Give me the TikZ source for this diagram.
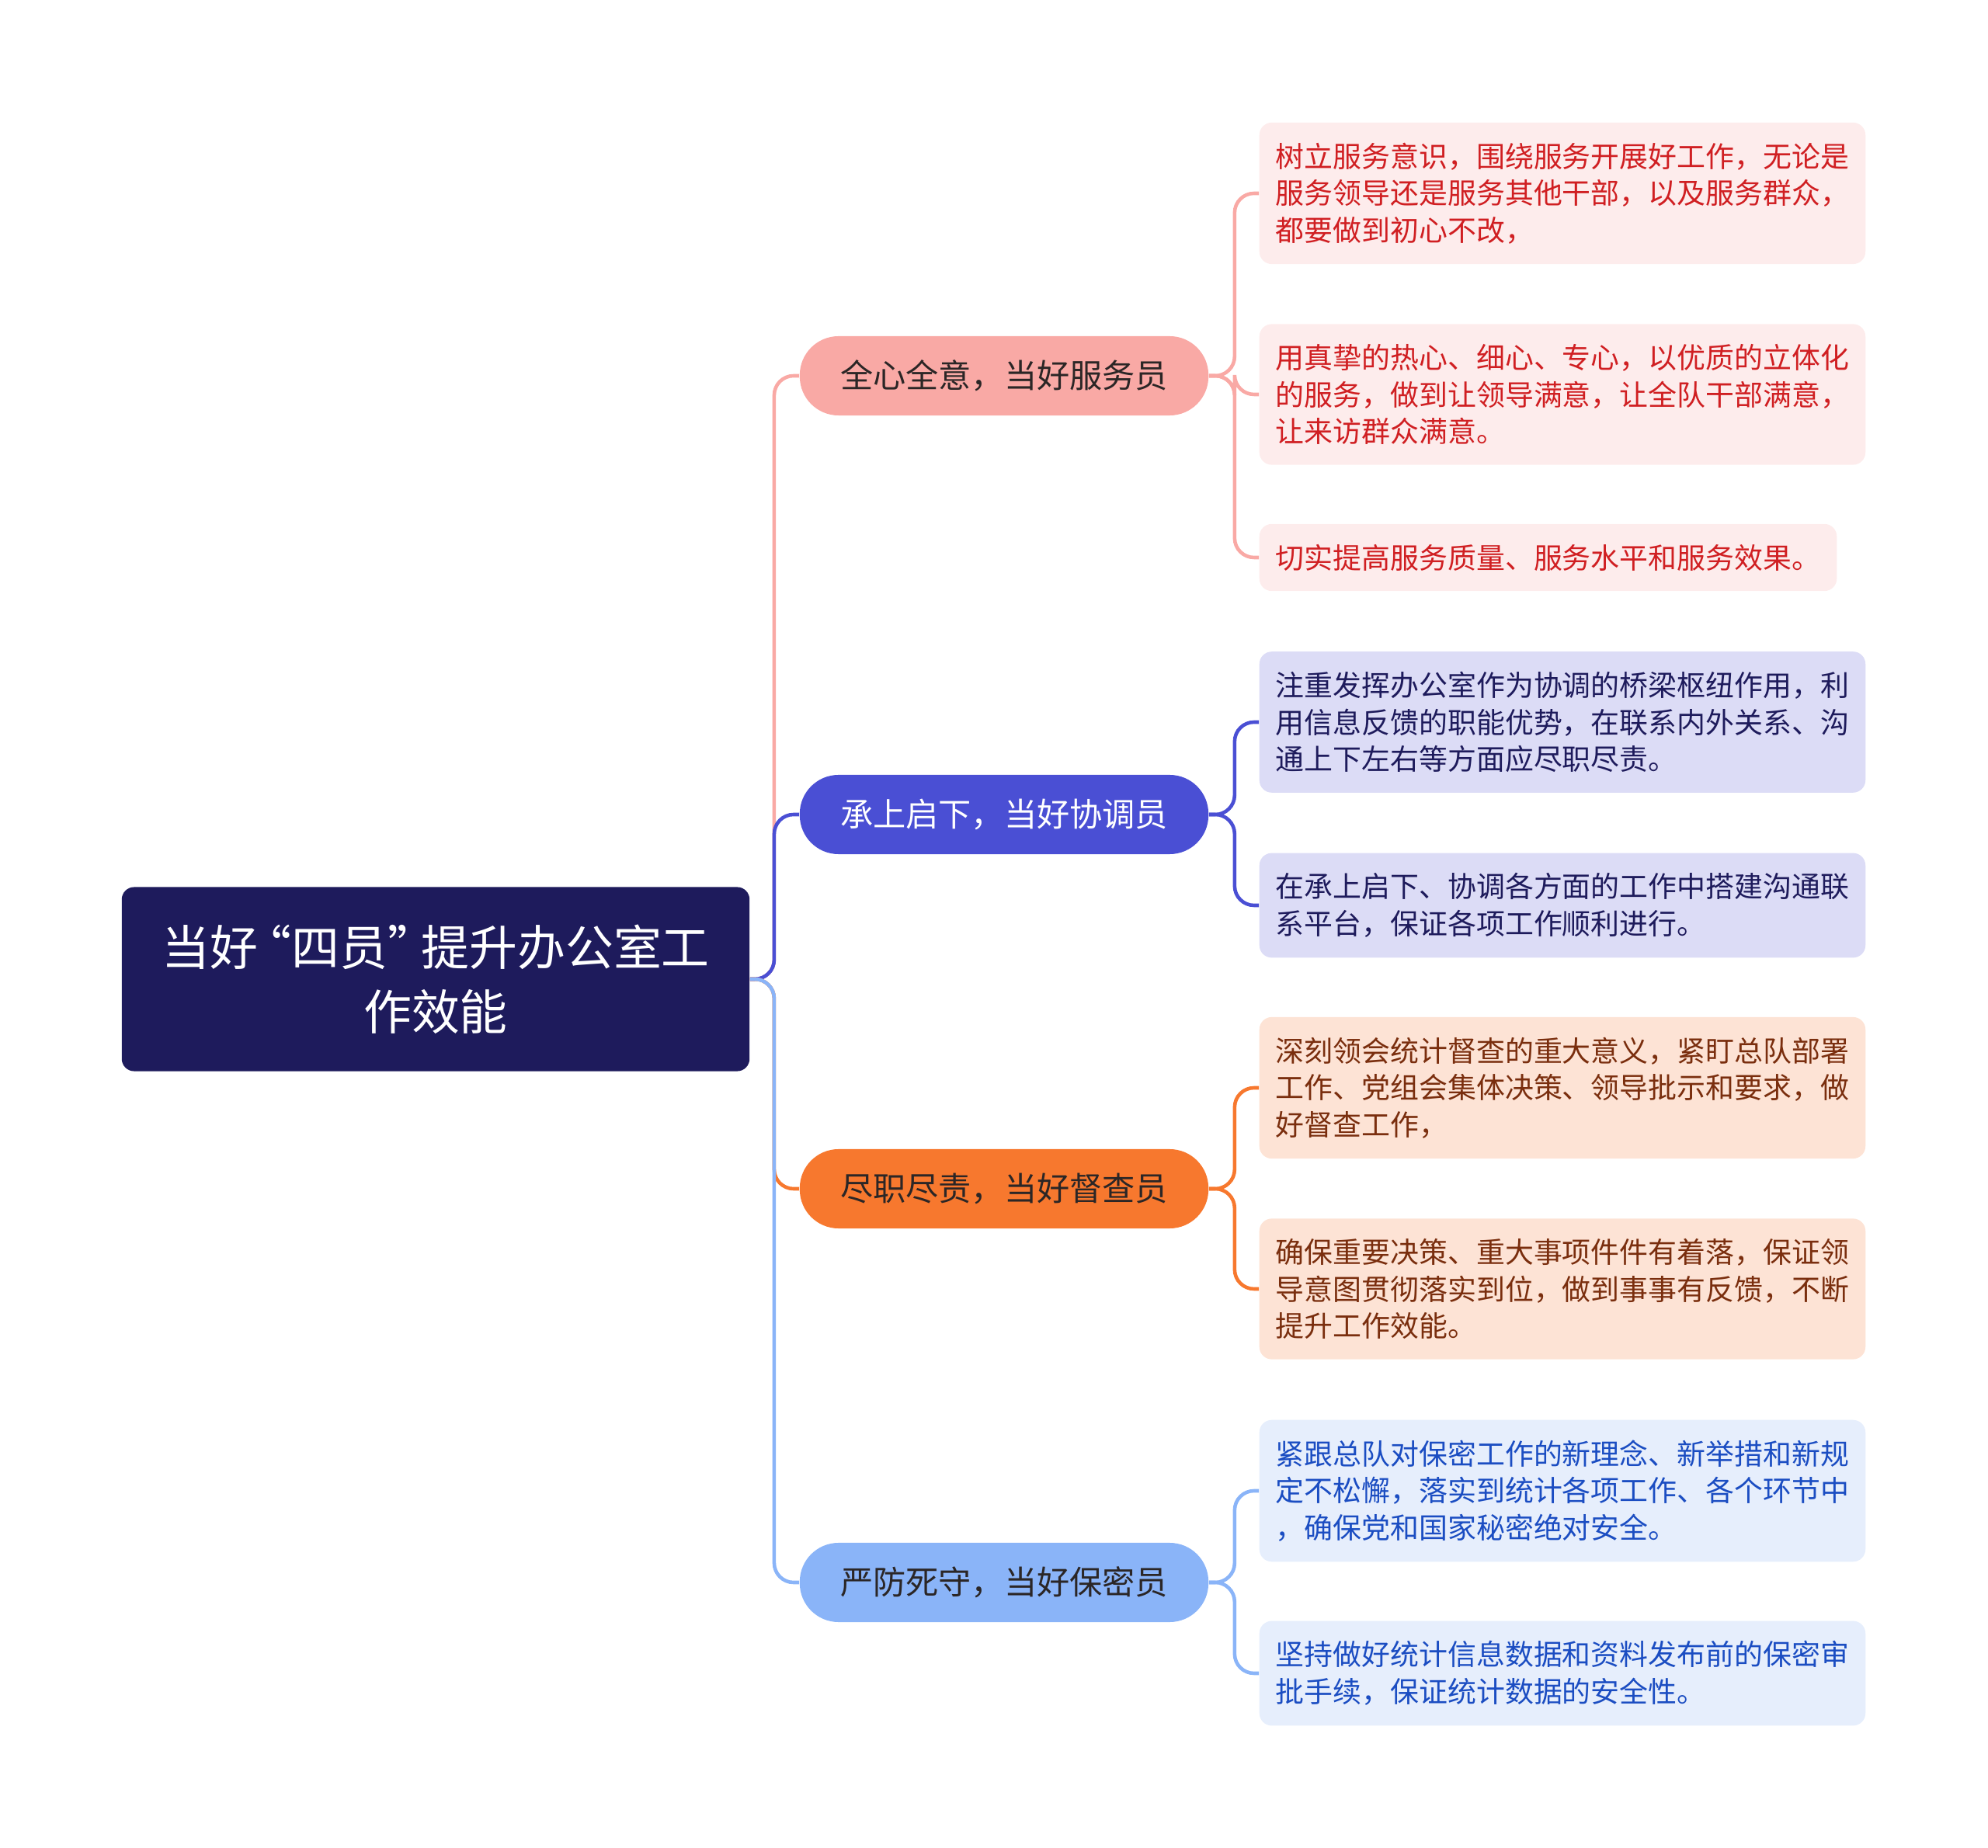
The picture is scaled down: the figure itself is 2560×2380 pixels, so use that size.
\documentclass[tikz,border=0pt]{standalone}
\usepackage{fontspec}
\setmainfont{Noto Sans CJK SC}
\usepackage{tikz}
\definecolor{rootnavy}{HTML}{1E1B5C}
\definecolor{servepink}{HTML}{F9A9A5}
\definecolor{coordblue}{HTML}{4A4FD4}
\definecolor{checkorange}{HTML}{F7782E}
\definecolor{secretblue}{HTML}{8AB4F8}
\definecolor{servefill}{HTML}{FDECEC}
\definecolor{coordfill}{HTML}{DCDCF6}
\definecolor{checkfill}{HTML}{FDE3D5}
\definecolor{secretfill}{HTML}{E6EEFC}
\definecolor{servetext}{HTML}{D01F22}
\definecolor{checktext}{HTML}{7A2E0E}
\definecolor{secrettext}{HTML}{1B4DC2}
\definecolor{pilltext}{HTML}{2B2626}
\tikzset{
  maproot/.style={fill=rootnavy,text=white,rounded corners=0.16cm,minimum width=8.08cm,
    minimum height=2.37cm,align=center,font=\fontsize{17.6pt}{23.6pt}\selectfont},
  mapbranch/.style={rounded corners=0.5cm,minimum width=5.26cm,minimum height=1.02cm,
    font=\fontsize{12pt}{14pt}\selectfont},
  mapleaf/.style={anchor=west,rounded corners=0.16cm,align=left,inner xsep=0.21cm,
    inner ysep=0.26cm,font=\fontsize{10.5pt}{13.5pt}\selectfont},
  maplink/.style={line width=1.3pt,rounded corners=0.25cm}
}
\begin{document}
\begin{tikzpicture}[x=0.01cm,y=-0.01cm]
  \useasboundingbox (0,0) rectangle (2560,2380);
  % centre
  \node[maproot] (root) at (561,1261) {当好\kern-0.3em“四员”\kern-0.3em提升办公室工\\作效能};
  % the four roles
  \node[mapbranch,fill=servepink,text=pilltext] (serve) at (1293,484) {全心全意，当好服务员};
  \node[mapbranch,fill=coordblue,text=white] (coord) at (1293,1049) {承上启下，当好协调员};
  \node[mapbranch,fill=checkorange,text=pilltext] (check) at (1293,1531) {尽职尽责，当好督查员};
  \node[mapbranch,fill=secretblue,text=pilltext] (secret) at (1293,2038) {严防死守，当好保密员};
  % details
  \node[mapleaf,fill=servefill,text=servetext] (serve1) at (1621,249)
    {树立服务意识，围绕服务开展好工作，无论是\\服务领导还是服务其他干部，以及服务群众，\\都要做到初心不改，};
  \node[mapleaf,fill=servefill,text=servetext] (serve2) at (1621,508)
    {用真挚的热心、细心、专心，以优质的立体化\\的服务，做到让领导满意，让全队干部满意，\\让来访群众满意。};
  \node[mapleaf,fill=servefill,text=servetext] (serve3) at (1621,718)
    {切实提高服务质量、服务水平和服务效果。};
  \node[mapleaf,fill=coordfill,text=rootnavy] (coord1) at (1621,930)
    {注重发挥办公室作为协调的桥梁枢纽作用，利\\用信息反馈的职能优势，在联系内外关系、沟\\通上下左右等方面应尽职尽责。};
  \node[mapleaf,fill=coordfill,text=rootnavy] (coord2) at (1621,1166)
    {在承上启下、协调各方面的工作中搭建沟通联\\系平台，保证各项工作顺利进行。};
  \node[mapleaf,fill=checkfill,text=checktext] (check1) at (1621,1401)
    {深刻领会统计督查的重大意义，紧盯总队部署\\工作、党组会集体决策、领导批示和要求，做\\好督查工作，};
  \node[mapleaf,fill=checkfill,text=checktext] (check2) at (1621,1660)
    {确保重要决策、重大事项件件有着落，保证领\\导意图贯彻落实到位，做到事事有反馈，不断\\提升工作效能。};
  \node[mapleaf,fill=secretfill,text=secrettext] (secret1) at (1621,1920)
    {紧跟总队对保密工作的新理念、新举措和新规\\定不松懈，落实到统计各项工作、各个环节中\\，确保党和国家秘密绝对安全。};
  \node[mapleaf,fill=secretfill,text=secrettext] (secret2) at (1621,2155)
    {坚持做好统计信息数据和资料发布前的保密审\\批手续，保证统计数据的安全性。};
  % links from the centre
  \draw[maplink,servepink] (root.east) -- ++(31,0) |- (serve.west);
  \draw[maplink,coordblue] (root.east) -- ++(31,0) |- (coord.west);
  \draw[maplink,checkorange] (root.east) -- ++(31,0) |- (check.west);
  \draw[maplink,secretblue] (root.east) -- ++(31,0) |- (secret.west);
  % links to the details
  \foreach \leaf in {serve1,serve2,serve3}
    \draw[maplink,servepink] (serve.east) -- ++(33,0) |- (\leaf.west);
  \foreach \leaf in {coord1,coord2}
    \draw[maplink,coordblue] (coord.east) -- ++(33,0) |- (\leaf.west);
  \foreach \leaf in {check1,check2}
    \draw[maplink,checkorange] (check.east) -- ++(33,0) |- (\leaf.west);
  \foreach \leaf in {secret1,secret2}
    \draw[maplink,secretblue] (secret.east) -- ++(33,0) |- (\leaf.west);
\end{tikzpicture}
\end{document}
